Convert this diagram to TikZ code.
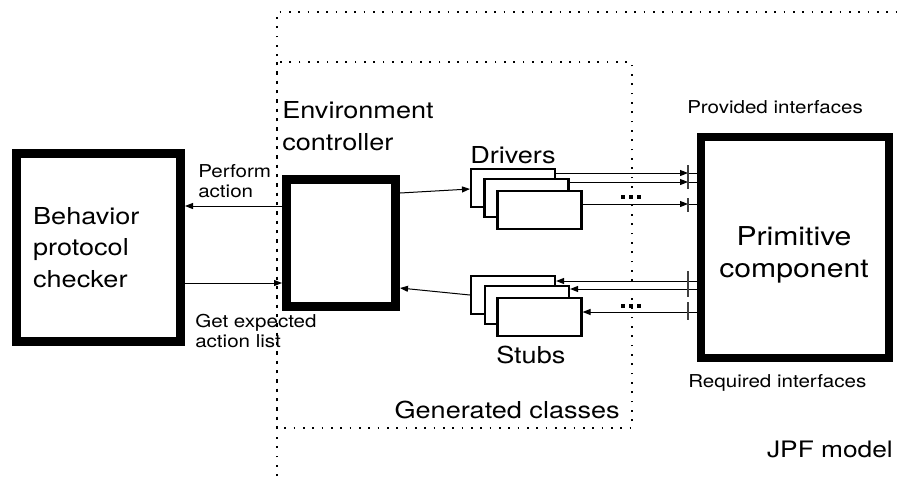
\documentclass[tikz,border=0pt]{standalone}
\usepackage{fontspec}
\setmainfont[FakeStretch=1.16]{TeX Gyre Heros}
\usetikzlibrary{arrows.meta}

\begin{document}
\begin{tikzpicture}[x=0.75pt,y=-0.75pt,>={Stealth[length=6pt,width=4.5pt,inset=0pt]},
    big node/.style={draw,line width=6.75pt,inner sep=0pt,font=\fontsize{17.5}{23.5}\selectfont},
    small box/.style={draw,fill=white,line width=1.6pt,minimum width=63pt,minimum height=28.5pt,inner sep=0pt},
    big label/.style={inner sep=0pt,font=\fontsize{17.5}{24}\selectfont,align=left},
    small label/.style={inner sep=0pt,font=\fontsize{13.3}{15}\selectfont,align=left},
    model line/.style={line width=1.25pt,dash pattern=on 1.25pt off 5.75pt},
    bar/.style={line width=1.2pt,black!75},
    wire/.style={line width=0.75pt},
    arr/.style={->,line width=0.75pt}]

    \useasboundingbox (0,0) rectangle (902,476);

    % dotted frames
    \draw[model line] (277,476) -- (277,12) -- (902,12);
    \draw[model line] (277,62) rectangle (632,428);

    \node[big node,minimum width=123pt,minimum height=141pt,text width=98pt,align=left] (checker) at (98.5,247.5) {Behavior\\protocol\\checker};
    \node[big node,minimum width=81.75pt,minimum height=95.25pt] (env) at (341,243) {};
    \node[big node,line width=6pt,minimum width=141pt,minimum height=165.75pt] (prim) at (795,247.5) {};
    \node[big label,align=center,font=\fontsize{19.5}{24}\selectfont] (primtext) at (794,255) {Primitive\\component};

    \node[small box] (drv1) at (513,188) {};
    \node[small box] (drv2) at (526.5,198) {};
    \node[small box] (drv3) at (539.5,210) {};
    \node[small box] (stb1) at (513,295) {};
    \node[small box] (stb2) at (527,305) {};
    \node[small box] (stb3) at (539.5,317) {};

    \node[big label,anchor=west] (envlabel) at (282,126.5) {Environment\\controller};
    \node[big label,anchor=base west] (drvlabel) at (470,163) {Drivers};
    \node[big label,anchor=base west] (stblabel) at (496,363) {Stubs};
    \node[big label,anchor=base east] (genlabel) at (620,418) {Generated classes};
    \node[big label,anchor=base east,font=\fontsize{17}{20}\selectfont] (jpflabel) at (893,457) {JPF model};
    \node[small label,anchor=base west] (provlabel) at (687,113) {Provided interfaces};
    \node[small label,anchor=base west] (reqlabel) at (688,387) {Required interfaces};
    \node[small label,anchor=west] (perflabel) at (198,180.7) {Perform\\action};
    \node[small label,anchor=west] (getlabel) at (195,330.7) {Get expected\\action list};

    \draw[arr] (env.west |- 0,206) -- (checker.east |- 0,206);
    \draw[arr] (checker.east |- 0,283) -- (env.west |- 0,283);
    \draw[arr] (env.east |- 0,193) -- (drv1.west |- 0,189);
    \draw[arr] (stb1.west |- 0,295) -- (env.east |- 0,288);

    \foreach \drv/\ypos in {drv1/173,drv2/182,drv3/204}{
        \draw[arr] (\drv.east |- 0,\ypos) -- (688,\ypos);
        \draw[wire] (688,\ypos) -- (prim.west |- 0,\ypos);
    }
    \foreach \stb/\ypos in {stb1/281,stb2/289,stb3/312}
        \draw[arr] (prim.west |- 0,\ypos) -- (\stb.east |- 0,\ypos);

    \draw[bar] (688,165) -- (688,189);
    \draw[bar] (688,198) -- (688,212);
    \draw[bar] (688,271) -- (688,297);
    \draw[bar] (688,302) -- (688,320);

    % dots between the interfaces
    \foreach \yy in {197,306}
        \foreach \xx in {623,631,639}
            \fill (\xx-1.7,\yy-1.7) rectangle (\xx+1.7,\yy+1.7);
\end{tikzpicture}
\end{document}
